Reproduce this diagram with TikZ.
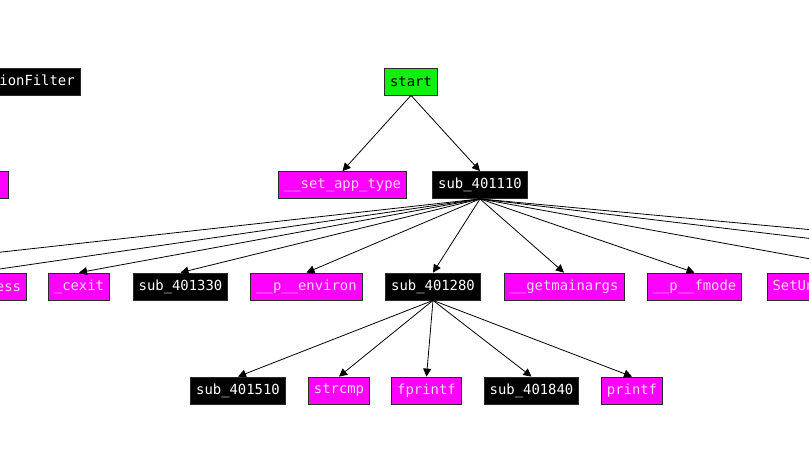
\documentclass[tikz,border=0pt]{standalone}
\usepackage{fontspec}
\newfontfamily\idafont{DejaVu Sans Mono}
\usetikzlibrary{arrows.meta}
\definecolor{impfill}{HTML}{FF00FF}
\definecolor{imptext}{HTML}{FFD6FF}
\definecolor{startfill}{HTML}{11EE11}
\definecolor{boxline}{HTML}{2A2A2A}
\begin{document}
\begin{tikzpicture}[x=1pt,y=-1pt,
  fnbox/.style={draw=boxline,line width=0.8pt,minimum height=27pt,inner xsep=5.5pt,inner ysep=0pt,
    font=\idafont\fontsize{13.9}{16}\selectfont,anchor=center},
  subfn/.style={fnbox,fill=black,text=white},
  impfn/.style={fnbox,fill=impfill,text=imptext},
  startfn/.style={fnbox,fill=startfill,text=black},
  call/.style={line width=0.8pt,-{Triangle[length=8pt,width=8pt]}}]
\useasboundingbox (0,0) rectangle (809,454);
\clip (0,0) rectangle (809,454);
\fill[white] (0,0) rectangle (809,454);
% top row
\node[subfn] (tlef) at (-21.5,81.5) {TopLevelExceptionFilter};
\node[startfn] (start) at (411,81.5) {start};
% second row
\node[impfn,minimum width=96pt] (leftimp) at (-40,184.5) {};
\node[impfn] (setapp) at (342.5,185) {\_\_set\_app\_type};
\node[subfn] (s1110) at (480,185) {sub\_401110};
% third row
\node[impfn] (exitp) at (-25,286.5) {ExitProcess};
\coordinate (offl) at (-187,273);
\node[impfn] (cexit) at (79,286.5) {\_cexit};
\node[subfn] (s1330) at (180.5,286.5) {sub\_401330};
\node[impfn] (environ) at (306.5,286.5) {\_\_p\_\_environ};
\node[subfn] (s1280) at (433,286.5) {sub\_401280};
\node[impfn] (getmain) at (564,286.5) {\_\_getmainargs};
\node[impfn] (fmode) at (694.5,286.5) {\_\_p\_\_fmode};
\node[impfn] (setun) at (885.5,286.5) {SetUnhandledExceptionFilter};
\coordinate (offr1) at (1097,273);
\coordinate (offr2) at (1276,273);
% fourth row
\node[subfn] (s1510) at (238,390.5) {sub\_401510};
\node[impfn] (strcmp) at (339,390.5) {strcmp};
\node[impfn] (fprintf) at (426.5,390.5) {fprintf};
\node[subfn] (s1840) at (531.5,390.5) {sub\_401840};
\node[impfn] (printf) at (632,390.5) {printf};
% edges
\draw[call] (start.south) -- (setapp.north);
\draw[call] (start.south) -- (s1110.north);
\foreach \t in {exitp,cexit,s1330,environ,s1280,getmain,fmode,setun}
  \draw[call] (s1110.south) -- (\t.north);
\draw[call] (s1110.south) -- (offl);
\draw[call] (s1110.south) -- (offr1);
\draw[call] (s1110.south) -- (offr2);
\foreach \t in {s1510,strcmp,fprintf,s1840,printf}
  \draw[call] (s1280.south) -- (\t.north);
\end{tikzpicture}
\end{document}
